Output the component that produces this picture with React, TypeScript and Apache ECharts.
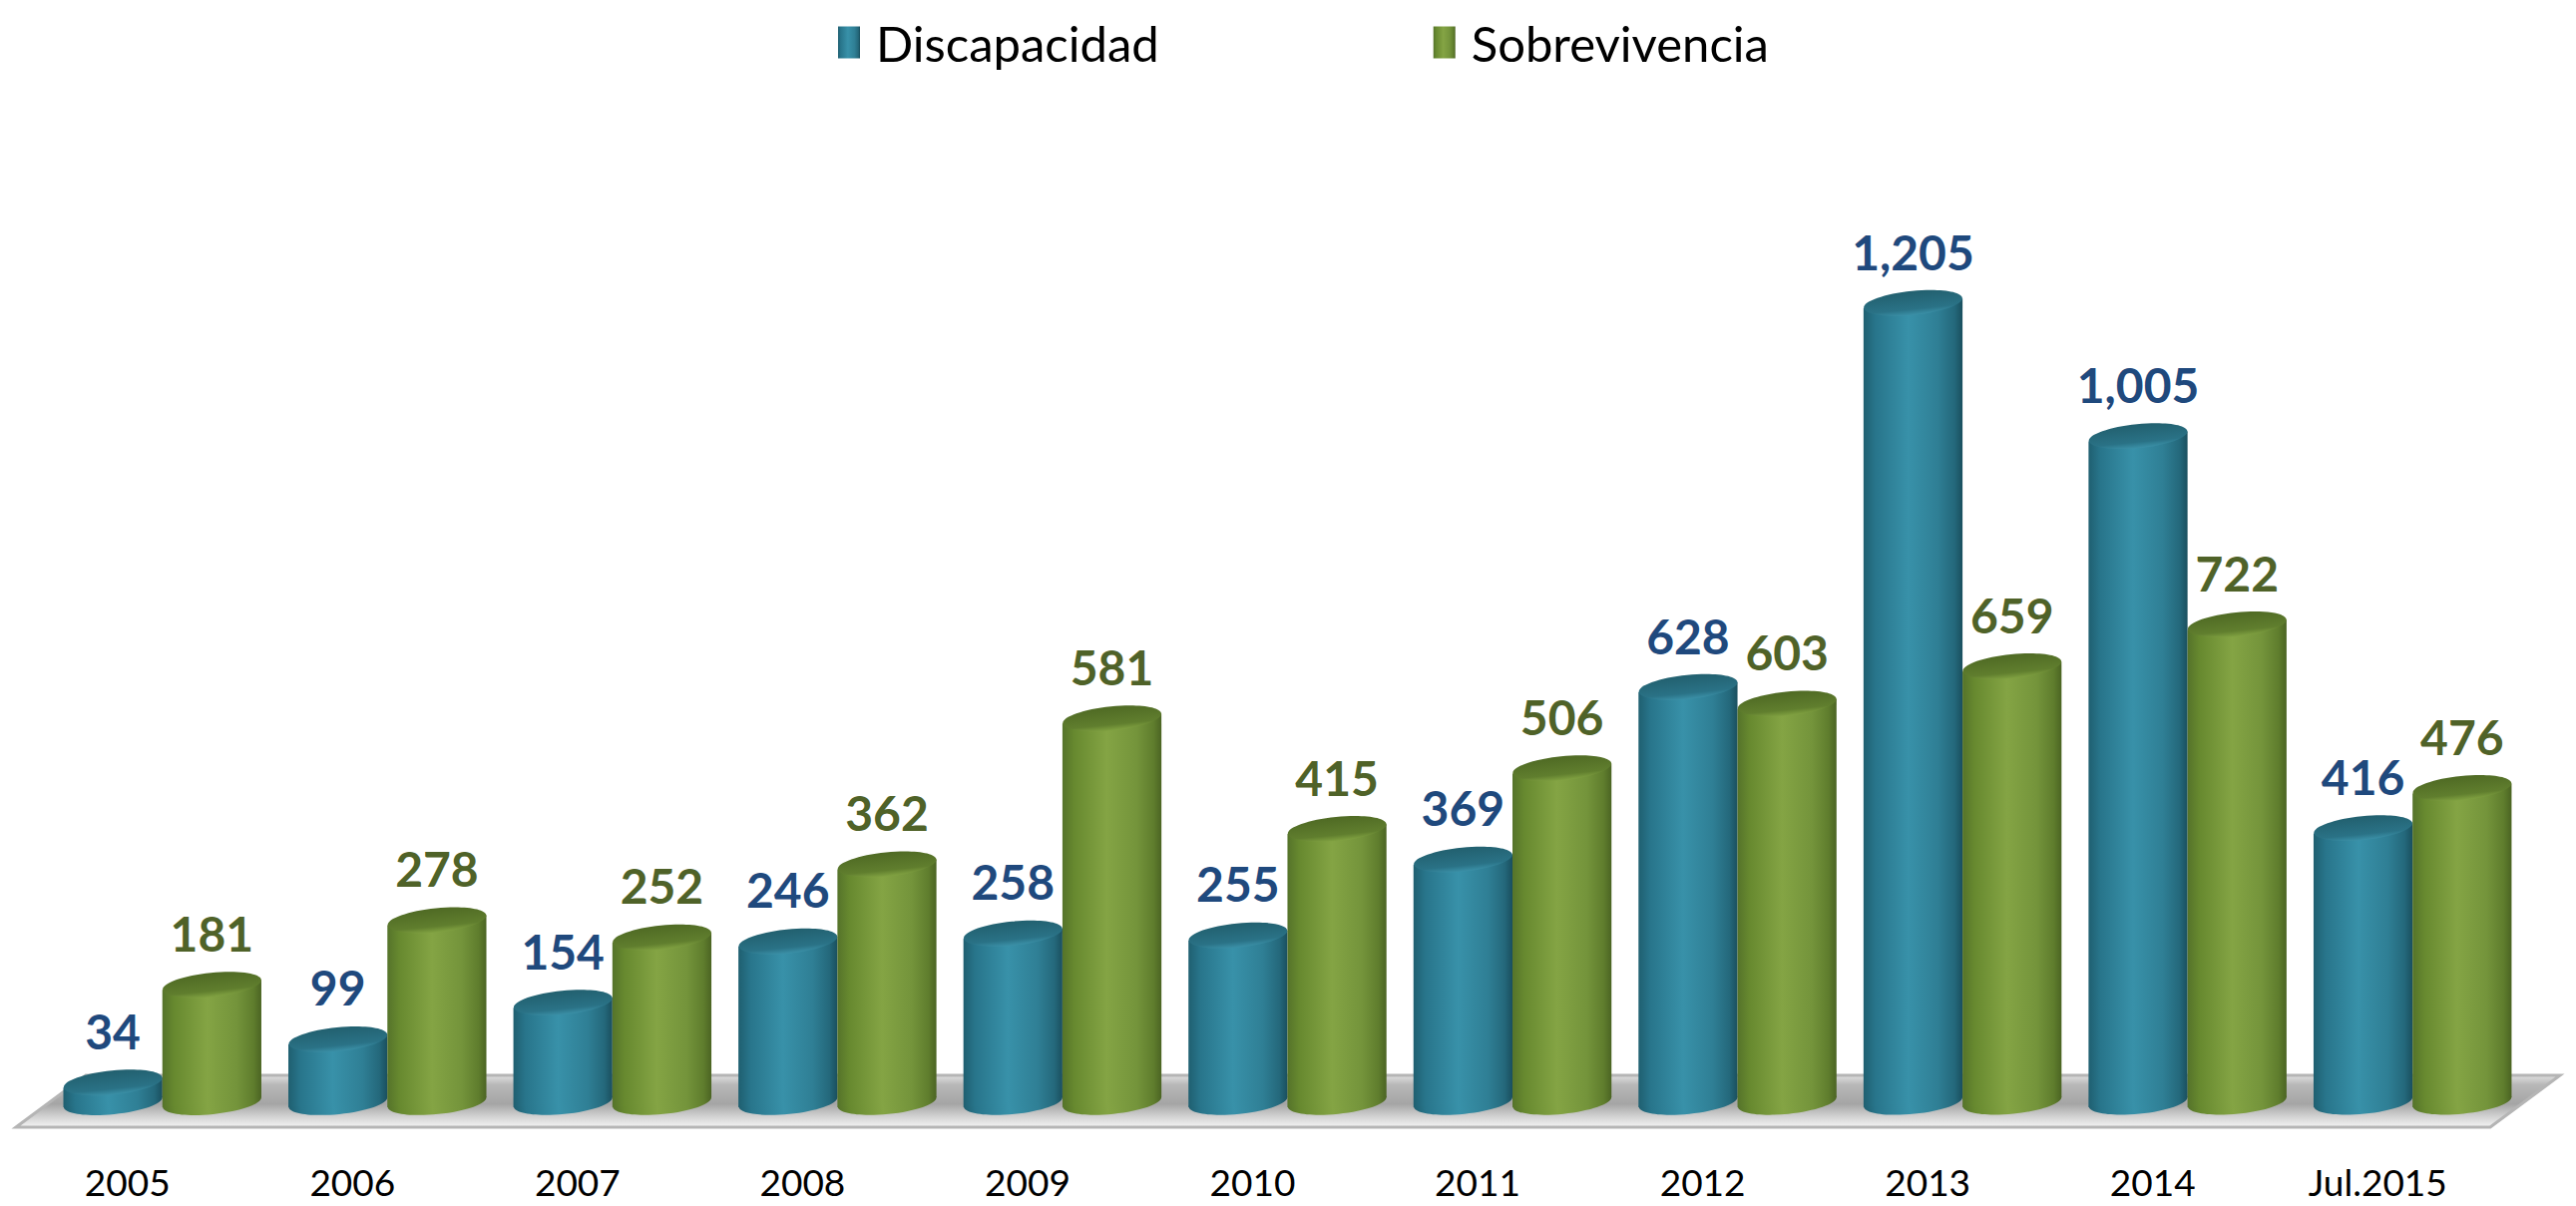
import React, { useEffect, useRef } from "react";
import * as echarts from "echarts";

const categories = ["2005", "2006", "2007", "2008", "2009", "2010", "2011", "2012", "2013", "2014", "Jul.2015"];
const discapacidad = [34, 99, 154, 246, 258, 255, 369, 628, 1205, 1005, 416];
const sobrevivencia = [181, 278, 252, 362, 581, 415, 506, 603, 659, 722, 476];
const seriesNames = ["Discapacidad", "Sobrevivencia"];

const W = 2582;
const H = 1209;
const GRID_LEFT = 15;
const GRID_RIGHT = 86;
const GRID_TOP = 174;
const GRID_BOTTOM = 101;
const Y_MAX = 1400;

const bodyGrad = (stops: string[]) =>
  new echarts.graphic.LinearGradient(0, 0, 1, 0, stops.map((c, i) => ({ offset: [0, 0.12, 0.45, 0.75, 0.92, 1][i], color: c })));

const BLUE_BODY = ["#1f5f70", "#28758b", "#3891a9", "#2f7f95", "#24687b", "#1a4f5e"];
const GREEN_BODY = ["#55732a", "#67892f", "#84a444", "#74943b", "#5f7d2d", "#4b6423"];
const BLUE_TOP = ["#22606f", "#2a7286", "#3b90a7"];
const GREEN_TOP = ["#4f6a24", "#607e2e", "#80a141"];
const LABEL_COLORS = ["#1F497D", "#4F6228"];

const topGrad = (c: string[]) =>
  new echarts.graphic.LinearGradient(0, 0, 0, 1, [
    { offset: 0, color: c[0] },
    { offset: 0.75, color: c[1] },
    { offset: 1, color: c[2] },
  ]);

function makeRender(si: number) {
  return (params: any, api: any) => {
    const i = api.value(0);
    const v = api.value(1);
    const top = api.coord([i, v]);
    const bot = api.coord([i, 0]);
    const band = api.size([1, 0])[0];
    const w = band * 0.44;
    const depth = band * 0.155;
    const cx = top[0] + depth + (si === 0 ? -w / 2 : w / 2);
    const rx = w / 2;
    const ry = 12;
    const rot = 0.1;
    const t = rx * Math.sin(rot);
    const x0 = cx - rx;
    const x1 = cx + rx;
    const cy = top[1];
    const base = bot[1] - 3;
    const body = si === 0 ? BLUE_BODY : GREEN_BODY;
    const topc = si === 0 ? BLUE_TOP : GREEN_TOP;
    return {
      type: "group",
      children: [
        {
          type: "ellipse",
          shape: { cx, cy: base, rx, ry },
          rotation: rot,
          originX: cx,
          originY: base,
          style: { fill: bodyGrad(body) },
        },
        {
          type: "polygon",
          shape: { points: [[x0, cy + t], [x1, cy - t], [x1, base - t], [x0, base + t]] },
          style: { fill: bodyGrad(body) },
        },
        {
          type: "ellipse",
          shape: { cx, cy, rx, ry },
          rotation: rot,
          originX: cx,
          originY: cy,
          style: { fill: topGrad(topc) },
        },
        {
          type: "text",
          x: cx,
          y: cy - 52,
          style: {
            text: Number(v).toLocaleString("en-US"),
            align: "center",
            verticalAlign: "middle",
            fill: LABEL_COLORS[si],
            fontSize: 48,
            fontWeight: "bold",
            fontFamily: "Lato",
          },
        },
      ],
    };
  };
}

export default function App() {
  const ref = useRef<HTMLDivElement>(null);
  useEffect(() => {
    if (!ref.current) return;
    const chart = echarts.init(ref.current, null, { renderer: "svg" });
    const floorTopY = 1078;
    const floorBotY = 1130;
    chart.setOption({
      animation: false,
      backgroundColor: "#ffffff",
      grid: { left: GRID_LEFT, right: GRID_RIGHT, top: GRID_TOP, bottom: GRID_BOTTOM },
      legend: {
        left: 840,
        top: 18,
        padding: 0,
        itemWidth: 22,
        itemHeight: 32,
        itemGap: 275,
        icon: "rect",
        textStyle: { fontFamily: "Lato", fontSize: 49, color: "#000", padding: [0, 0, 0, 11] },
        data: [
          { name: seriesNames[0], itemStyle: { color: bodyGrad(BLUE_BODY) } },
          { name: seriesNames[1], itemStyle: { color: bodyGrad(GREEN_BODY) } },
        ],
      },
      xAxis: {
        type: "category",
        data: categories,
        axisLine: { show: false },
        axisTick: { show: false },
        axisLabel: { margin: 58, fontFamily: "Lato", fontSize: 37, color: "#000", interval: 0 },
      },
      yAxis: { type: "value", min: 0, max: Y_MAX, show: false, splitLine: { show: false } },
      graphic: [
        {
          type: "polygon",
          z: 0,
          shape: {
            points: [
              [16, floorBotY],
              [86, floorTopY],
              [2566, floorTopY],
              [2496, floorBotY],
            ],
          },
          style: {
            fill: new echarts.graphic.LinearGradient(0, 0, 0, 1, [
              { offset: 0, color: "#e0e0e0" },
              { offset: 0.18, color: "#b8b8b8" },
              { offset: 0.55, color: "#a5a5a5" },
              { offset: 0.8, color: "#d3d3d3" },
              { offset: 1, color: "#f4f4f4" },
            ]),
            stroke: "#b5b5b5",
            lineWidth: 3,
          },
        },
      ],
      series: [
        {
          type: "custom",
          name: seriesNames[0],
          z: 3,
          itemStyle: { color: "#31849B" },
          renderItem: makeRender(0),
          encode: { x: 0, y: 1 },
          data: discapacidad.map((v, i) => [i, v]),
        },
        {
          type: "custom",
          name: seriesNames[1],
          z: 4,
          itemStyle: { color: "#77933C" },
          renderItem: makeRender(1),
          encode: { x: 0, y: 1 },
          data: sobrevivencia.map((v, i) => [i, v]),
        },
      ],
    });
    return () => chart.dispose();
  }, []);
  return <div ref={ref} style={{ position: "fixed", left: 0, top: 0, width: W, height: H }} />;
}
